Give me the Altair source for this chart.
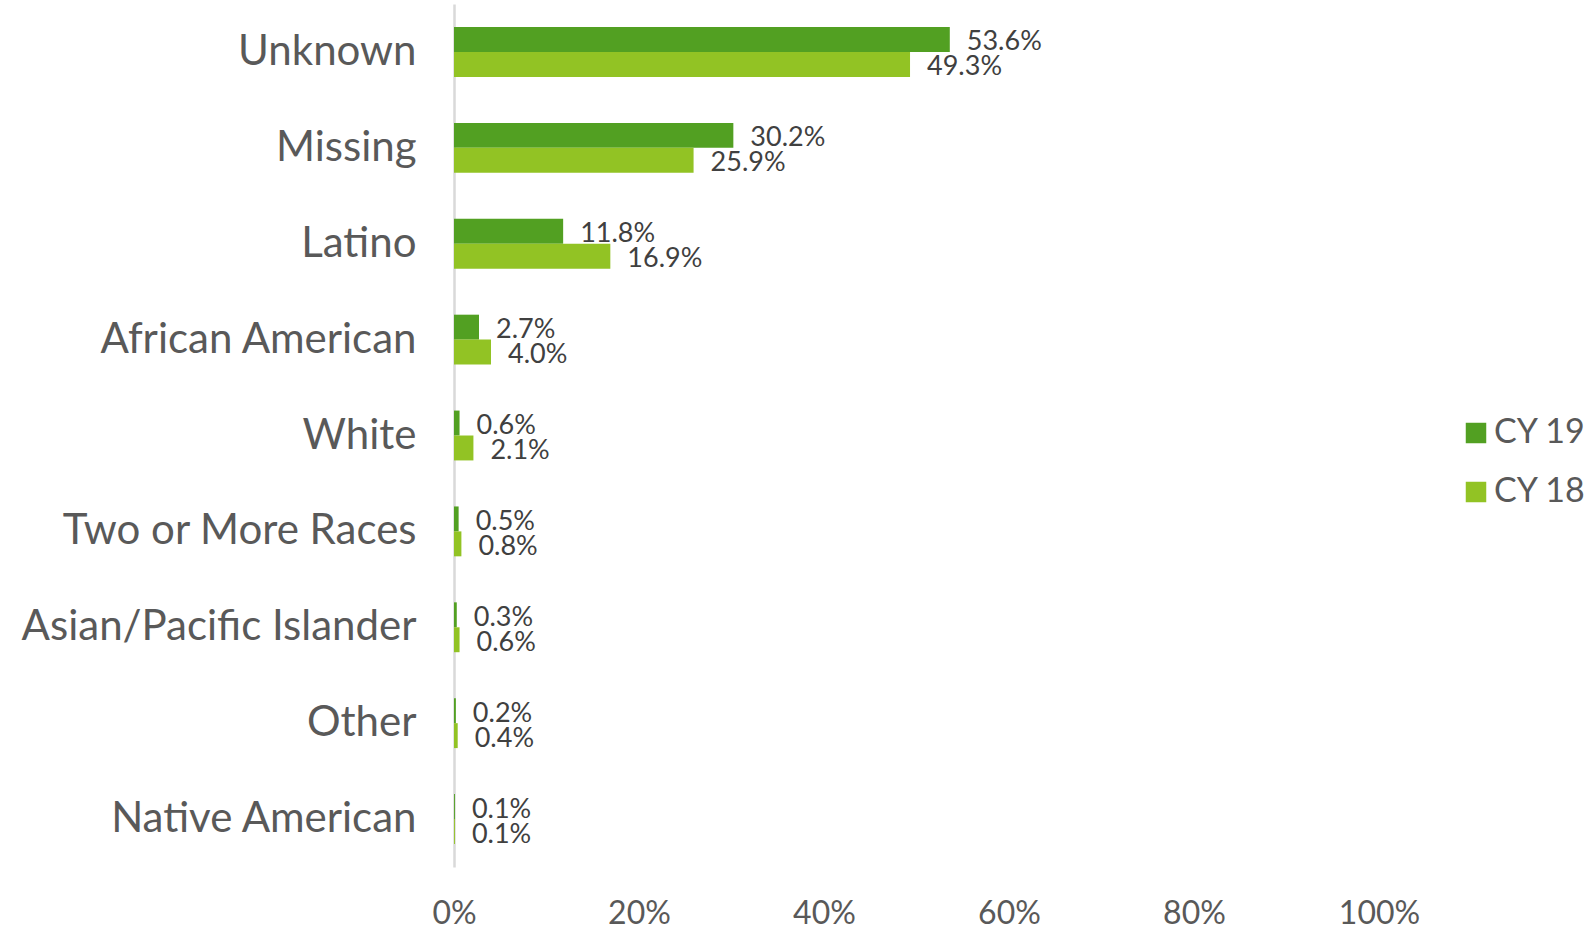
import altair as alt
import pandas as pd

categories = ["Unknown", "Missing", "Latino", "African American", "White",
              "Two or More Races", "Asian/Pacific Islander", "Other", "Native American"]
cy19 = [53.6, 30.2, 11.8, 2.7, 0.6, 0.5, 0.3, 0.2, 0.1]
cy18 = [49.3, 25.9, 16.9, 4.0, 2.1, 0.8, 0.6, 0.4, 0.1]
series = ["CY 19", "CY 18"]
x_ticks = [0, 20, 40, 60, 80, 100]

rows = []
for c, a, b in zip(categories, cy19, cy18):
    rows.append({"category": c, "series": "CY 19", "value": a})
    rows.append({"category": c, "series": "CY 18", "value": b})
df = pd.DataFrame(rows)

FONT = "Lato"
GRAY = "#595959"

y_enc = alt.Y("category:N", sort=categories,
              scale=alt.Scale(paddingInner=0.48, paddingOuter=0.24),
              axis=alt.Axis(title=None, ticks=False, domainColor="#D9D9D9", domainWidth=2.5,
                            labelFontSize=42, labelColor=GRAY, labelFont=FONT, labelPadding=38,
                            labelLimit=600))
yoff = alt.YOffset("series:N", sort=series, scale=alt.Scale(paddingInner=0, paddingOuter=0))
x_enc = alt.X("value:Q", scale=alt.Scale(domain=[0, 100]),
              axis=alt.Axis(title=None, values=x_ticks, grid=False, domain=False, ticks=False,
                            labelExpr="datum.value + '%'", labelFontSize=32, labelColor=GRAY,
                            labelFont=FONT, labelPadding=31, labelFlush=False))

bars = alt.Chart(df).mark_bar().encode(
    x=x_enc, y=y_enc, yOffset=yoff,
    color=alt.Color("series:N", sort=series,
                    scale=alt.Scale(domain=series, range=["#52A022", "#92C324"]),
                    legend=alt.Legend(title=None, orient="none", legendX=1005, legendY=412,
                                      symbolType="square", symbolSize=420, symbolStrokeWidth=0,
                                      labelFontSize=34, labelColor=GRAY, labelFont=FONT,
                                      rowPadding=25, labelOffset=1, padding=0)),
)

labels = alt.Chart(df).transform_calculate(
    label="format(datum.value, '.1f') + '%'"
).mark_text(align="left", baseline="middle", dx=17, dy=3, fontSize=27, color="#404040", font=FONT).encode(
    x="value:Q", y=alt.Y("category:N", sort=categories), yOffset=alt.YOffset("series:N", sort=series),
    text="label:N",
)

chart = alt.layer(bars, labels).properties(
    width=925, height=863,
    autosize=alt.AutoSizeParams(type="none"),
    padding={"left": 454, "top": 4, "right": 213, "bottom": 66},
    background="white",
).configure_view(strokeWidth=0)

chart.save("out.html", embed_options={"renderer": "svg", "actions": False})
